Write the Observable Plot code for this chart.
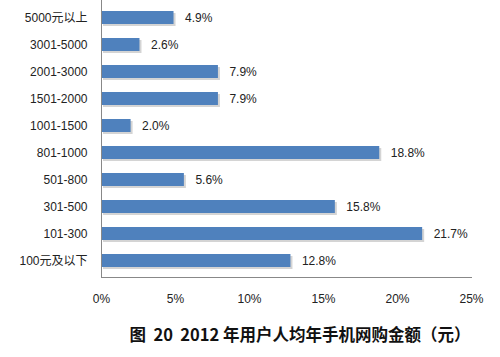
<!DOCTYPE html>
<html>
<head>
<meta charset="utf-8">
<script src="https://cdn.jsdelivr.net/npm/d3@7"></script>
<script src="https://cdn.jsdelivr.net/npm/@observablehq/plot@0.6"></script>
<style>
  body { margin: 0; background: #fff; }
  #wrap { width: 500px; height: 357px; position: relative; overflow: hidden; }
  #cap { position: absolute; left: 0; top: 322px; width: 600px; text-align: center; white-space: pre;
         font-family: "Noto Sans CJK SC", sans-serif; font-weight: bold; font-size: 16.5px; color: #111; }
</style>
</head>
<body>
<div id="wrap"><div id="chart"></div><div id="cap">图  20  2012 年用户人均年手机网购金额（元）</div></div>
<script>
const categories = ["5000元以上", "3001-5000", "2001-3000", "1501-2000", "1001-1500", "801-1000", "501-800", "301-500", "101-300", "100元及以下"];
const values = [4.9, 2.6, 7.9, 7.9, 2.0, 18.8, 5.6, 15.8, 21.7, 12.8];
const xTicks = [0, 5, 10, 15, 20, 25];

const data = categories.map((c, i) => ({cat: c, v: values[i]}));
const font = '"Liberation Sans", "Noto Sans CJK SC", sans-serif';

const chart = Plot.plot({
  width: 500,
  height: 316,
  marginTop: 0,
  marginBottom: 39,
  marginLeft: 101,
  marginRight: 29,
  style: {fontFamily: font, fontSize: "12px", color: "#222", background: "#fff"},
  x: {domain: [0, 25], ticks: xTicks, tickFormat: d => d + "%", label: null},
  y: {domain: categories, paddingInner: 0.52, paddingOuter: 0.26, label: null},
  marks: [
    Plot.barX(data, {y: "cat", x: "v", fill: "#b8b8b8", fillOpacity: 0.6, dx: 2, dy: 2}),
    Plot.barX(data, {y: "cat", x: "v", fill: "#4F81BD"}),
    Plot.text(data, {y: "cat", x: "v", text: d => d.v.toFixed(1) + "%", textAnchor: "start", dx: 11, fill: "#222", fontSize: 12}),
    Plot.axisX({ticks: xTicks, tickFormat: d => d + "%", tickSize: 0, tickPadding: 17, fontSize: 12, label: null}),
    Plot.axisY({tickSize: 0, tickPadding: 14, label: null, fontSize: 12}),
    Plot.ruleX([0], {stroke: "#888"}),
    Plot.frame({anchor: "bottom", stroke: "#888"})
  ]
});
document.getElementById("chart").appendChild(chart);
</script>
</body>
</html>
